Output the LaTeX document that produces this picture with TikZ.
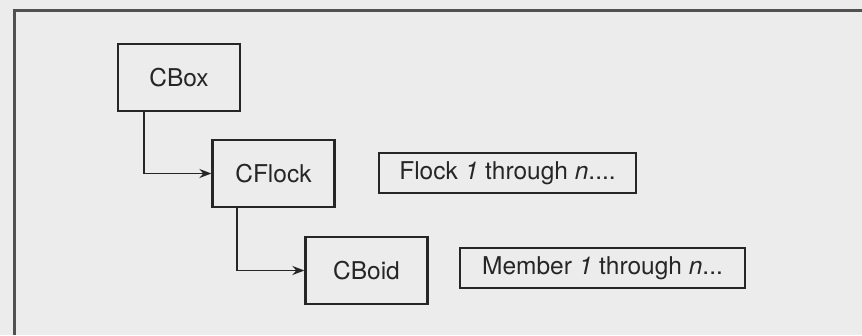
\documentclass[tikz,border=0pt]{standalone}
\usepackage{fontspec}
\setmainfont{TeX Gyre Heros}
\usetikzlibrary{arrows.meta}
\definecolor{paper}{RGB}{236,236,236}
\definecolor{ink}{RGB}{38,38,38}
\tikzset{
  classbox/.style={draw=ink, line width=2.2pt, text=ink, inner sep=0pt,
    minimum width=122pt, minimum height=67pt, font=\fontsize{24.5}{28}\selectfont},
  notebox/.style={draw=ink, line width=2.2pt, text=ink, inner sep=0pt,
    minimum height=40pt, font=\fontsize{24.5}{28}\selectfont},
  conn/.style={draw=ink, line width=1.9pt, -{Stealth[length=12pt,width=9pt]}},
  frame/.style={draw=ink!80, line width=3pt}
}
\begin{document}
\begin{tikzpicture}[x=1pt,y=-1pt]
\fill[paper] (0,0) rectangle (862,335);
\useasboundingbox (0,0) rectangle (862,335);
\draw[frame] (14,335) -- (14,10) -- (862,10);
\node[classbox] (cbox) at (179,77.5) {CBox};
\node[classbox] (cflock) at (273.5,173.5) {CFlock};
\node[classbox] (cboid) at (366.5,270.5) {CBoid};
\node[notebox, minimum width=257pt] (flocks) at (507.5,173) {Flock \textit{1} through \textit{n}....};
\node[notebox, minimum width=285pt] (members) at (602.5,268) {Member \textit{1} through \textit{n}...};
\draw[conn] ([xshift=27pt]cbox.south west) |- (cflock.west);
\draw[conn] ([xshift=26pt]cflock.south west) |- (cboid.west);
\end{tikzpicture}
\end{document}
